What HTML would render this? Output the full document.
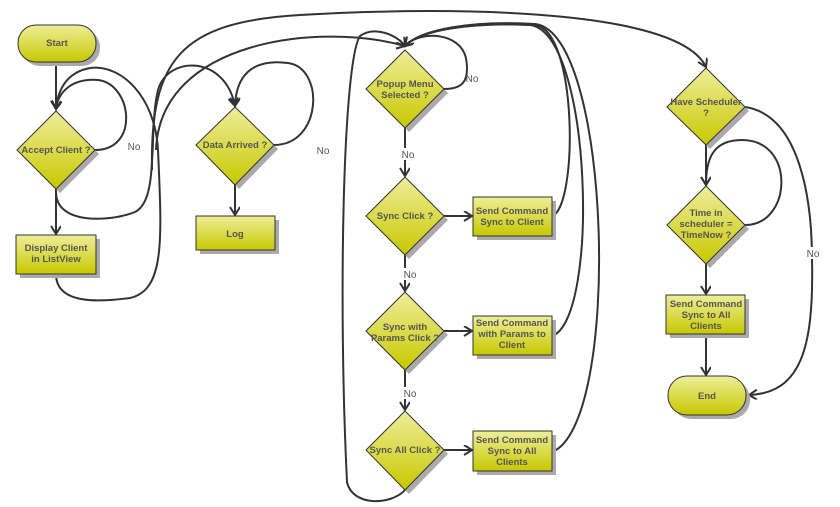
<!DOCTYPE html>
<html><head><meta charset="utf-8"><style>
body{margin:0;background:#fff;}
svg{display:block;font-family:"Liberation Sans",sans-serif;}
.t{font-size:9.5px;font-weight:bold;fill:#555;text-anchor:middle;}
.n{font-size:10px;fill:#555;text-anchor:middle;}
.c{fill:none;stroke:#333;stroke-width:2;}
.s{fill:#aaa;}
.f{fill:url(#g);stroke:#333;stroke-width:1;}
</style></head><body>
<svg width="840" height="507" viewBox="0 0 840 507">
<defs>
<linearGradient id="g" x1="0" y1="0" x2="0" y2="1"><stop offset="0" stop-color="#eeee9a"/><stop offset="1" stop-color="#c8c800"/></linearGradient>
<marker id="a" markerWidth="12" markerHeight="12" refX="9" refY="5" orient="auto" markerUnits="userSpaceOnUse"><path d="M1,0 L9,5 L1,10" fill="none" stroke="#333" stroke-width="2"/></marker>
</defs>
<!-- connectors -->
<g class="c">
<path d="M56,62 L56,109" marker-end="url(#a)"/>
<path d="M95,150 C140,150 132,84 98,80 C72,78 58,92 56,109" marker-end="url(#a)"/>
<path d="M56,189 L56,234" marker-end="url(#a)"/>
<path d="M56,192 C56,225 110,222 135,212 C160,200 148,130 158,90 C168,55 225,55 235,106" marker-end="url(#a)"/>
<path d="M56,274 C56,305 100,302 130,298 C165,290 162,240 158,150 C155,95 120,64 90,68 C68,72 58,88 56,109" marker-end="url(#a)"/>
<path d="M274,145 C322,145 325,68 288,63 C250,58 236,78 235,106" marker-end="url(#a)"/>
<path d="M235,185 L235,215" marker-end="url(#a)"/>
<path d="M152,170 C150,60 180,22 300,15 C480,5 680,12 706,67" marker-end="url(#a)"/>
<path d="M156,150 C160,40 320,22 405,46" marker-end="url(#a)"/>
<path d="M444,89 C462,89 470,82 466,58 C460,32 420,30 405,46" marker-end="url(#a)"/>
<path d="M405,128 L405,176" marker-end="url(#a)"/>
<path d="M444,216 L472,216" marker-end="url(#a)"/>
<path d="M552,216 C578,208 578,30 535,25 C470,22 420,30 405,46" marker-end="url(#a)"/>
<path d="M405,255 L405,291" marker-end="url(#a)"/>
<path d="M444,331 L472,331" marker-end="url(#a)"/>
<path d="M552,336 C600,320 592,32 530,25 C470,22 420,30 405,46" marker-end="url(#a)"/>
<path d="M405,370 L405,410" marker-end="url(#a)"/>
<path d="M444,450 L472,450" marker-end="url(#a)"/>
<path d="M552,452 C622,425 612,32 535,24 C470,20 420,30 405,46" marker-end="url(#a)"/>
<path d="M405,490 C390,506 352,506 347,482 C338,300 343,62 360,36 C374,26 396,34 405,46" marker-end="url(#a)"/>
<path d="M706,145 L706,185" marker-end="url(#a)"/>
<path d="M745,225 C792,225 796,140 742,140 C712,140 706,160 706,185" marker-end="url(#a)"/>
<path d="M706,264 L706,294" marker-end="url(#a)"/>
<path d="M706,334 L706,375" marker-end="url(#a)"/>
<path d="M745,107 C800,115 812,200 812,260 C814,350 800,393 749,395" marker-end="url(#a)"/>
</g>
<!-- labels on connectors -->
<g class="n">
<rect x="126" y="140" width="16" height="12" fill="#fff"/><text x="134" y="150">No</text>
<text x="323" y="154">No</text>
<text x="472" y="82">No</text>
<rect x="400" y="148" width="16" height="12" fill="#fff"/><text x="408" y="158">No</text>
<rect x="402" y="268" width="16" height="12" fill="#fff"/><text x="410" y="278">No</text>
<rect x="402" y="387" width="16" height="12" fill="#fff"/><text x="410" y="397">No</text>
<rect x="804" y="247" width="18" height="12" fill="#fff"/><text x="813" y="257">No</text>
</g>
<!-- shapes -->
<g>
<rect class="s" x="22" y="29" width="78" height="37" rx="18"/><rect class="f" x="18" y="25" width="78" height="37" rx="18"/>
<text class="t" x="57" y="46">Start</text>

<polygon class="s" points="60,115 99,154 60,193 21,154"/><polygon class="f" points="56,111 95,150 56,189 17,150"/>
<text class="t" x="56" y="153">Accept Client ?</text>

<rect class="s" x="20" y="239" width="80" height="39"/><rect class="f" x="16" y="235" width="80" height="39"/>
<text class="t" x="56" y="251">Display Client</text><text class="t" x="56" y="262">in ListView</text>

<polygon class="s" points="239,111 278,149 239,189 200,149"/><polygon class="f" points="235,107 274,145 235,185 196,145"/>
<text class="t" x="235" y="148">Data Arrived ?</text>

<rect class="s" x="200" y="220" width="79" height="34"/><rect class="f" x="196" y="216" width="79" height="34"/>
<text class="t" x="235" y="237">Log</text>

<polygon class="s" points="409,54 448,93 409,132 370,93"/><polygon class="f" points="405,50 444,89 405,128 366,89"/>
<text class="t" x="405" y="87">Popup Menu</text><text class="t" x="405" y="98">Selected ?</text>

<polygon class="s" points="409,181 448,220 409,259 370,220"/><polygon class="f" points="405,177 444,216 405,255 366,216"/>
<text class="t" x="405" y="219">Sync Click ?</text>

<rect class="s" x="477" y="201" width="79" height="39"/><rect class="f" x="473" y="197" width="79" height="39"/>
<text class="t" x="512" y="214">Send Command</text><text class="t" x="512" y="225">Sync to Client</text>

<polygon class="s" points="409,296 448,335 409,374 370,335"/><polygon class="f" points="405,292 444,331 405,370 366,331"/>
<text class="t" x="405" y="330">Sync with</text><text class="t" x="405" y="341">Params Click ?</text>

<rect class="s" x="477" y="320" width="79" height="39"/><rect class="f" x="473" y="316" width="79" height="39"/>
<text class="t" x="512" y="326">Send Command</text><text class="t" x="512" y="337">with Params to</text><text class="t" x="512" y="348">Client</text>

<polygon class="s" points="409,415 448,454 409,494 370,454"/><polygon class="f" points="405,411 444,450 405,490 366,450"/>
<text class="t" x="405" y="453">Sync All Click ?</text>

<rect class="s" x="477" y="435" width="79" height="40"/><rect class="f" x="473" y="431" width="79" height="40"/>
<text class="t" x="512" y="443">Send Command</text><text class="t" x="512" y="454">Sync to All</text><text class="t" x="512" y="465">Clients</text>

<polygon class="s" points="710,72 749,111 710,149 671,111"/><polygon class="f" points="706,68 745,107 706,145 667,107"/>
<text class="t" x="706" y="105">Have Scheduler</text><text class="t" x="706" y="116">?</text>

<polygon class="s" points="710,190 749,229 710,268 671,229"/><polygon class="f" points="706,186 745,225 706,264 667,225"/>
<text class="t" x="706" y="216">Time in</text><text class="t" x="706" y="227">scheduler =</text><text class="t" x="706" y="238">TimeNow ?</text>

<rect class="s" x="670" y="299" width="79" height="39"/><rect class="f" x="666" y="295" width="79" height="39"/>
<text class="t" x="706" y="307">Send Command</text><text class="t" x="706" y="318">Sync to All</text><text class="t" x="706" y="329">Clients</text>

<rect class="s" x="672" y="380" width="78" height="39" rx="19"/><rect class="f" x="668" y="376" width="78" height="39" rx="19"/>
<text class="t" x="707" y="399">End</text>
</g>
</svg>
</body></html>
